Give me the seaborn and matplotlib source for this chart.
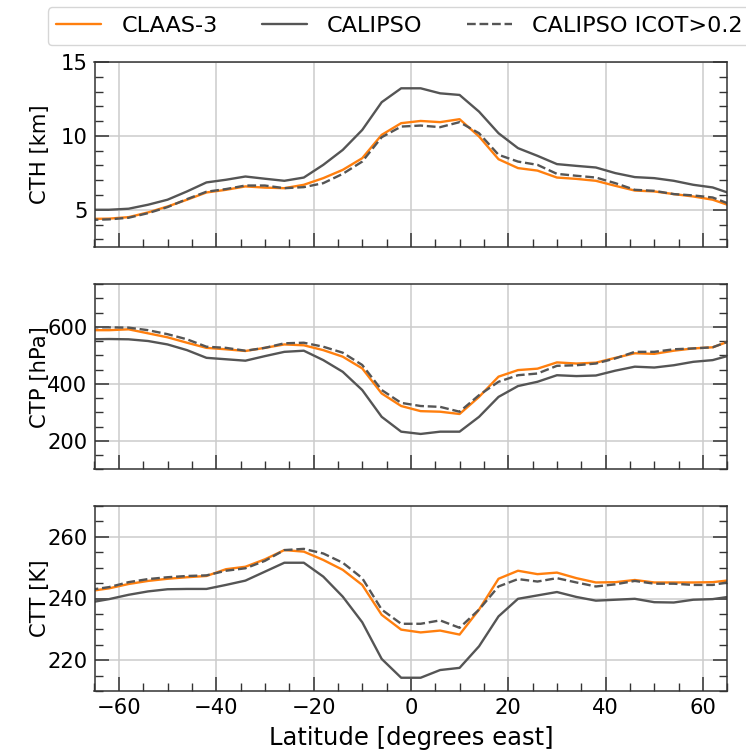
import numpy as np
import pandas as pd
import matplotlib
matplotlib.use("Agg")
import matplotlib.pyplot as plt
from matplotlib.ticker import MultipleLocator
import seaborn as sns

lat = [-66, -62, -58, -54, -50, -46, -42, -38, -34, -30, -26, -22, -18, -14, -10, -6, -2,
       2, 6, 10, 14, 18, 22, 26, 30, 34, 38, 42, 46, 50, 54, 58, 62, 66]

cth_claas = [4.38, 4.40, 4.50, 4.82, 5.22, 5.68, 6.17, 6.35, 6.58, 6.50, 6.46, 6.69, 7.14, 7.70, 8.49, 10.07, 10.86,
             11.01, 10.93, 11.13, 9.96, 8.42, 7.82, 7.65, 7.18, 7.09, 6.96, 6.62, 6.30, 6.24, 6.06, 5.90, 5.68, 5.23]
cth_calipso = [5.00, 5.00, 5.07, 5.34, 5.68, 6.24, 6.85, 7.03, 7.25, 7.10, 6.96, 7.18, 8.04, 9.05, 10.40, 12.28, 13.22,
               13.22, 12.88, 12.77, 11.64, 10.18, 9.17, 8.65, 8.09, 7.97, 7.86, 7.48, 7.21, 7.14, 6.96, 6.69, 6.51, 6.06]
cth_icot = [4.31, 4.35, 4.46, 4.77, 5.18, 5.72, 6.22, 6.40, 6.64, 6.64, 6.46, 6.53, 6.80, 7.43, 8.26, 9.91, 10.63,
            10.70, 10.59, 10.93, 10.18, 8.72, 8.26, 8.04, 7.43, 7.30, 7.18, 6.80, 6.35, 6.28, 6.06, 5.97, 5.83, 5.32]

ctp_claas = [588, 588, 591, 577, 563, 544, 526, 521, 515, 526, 538, 535, 518, 495, 454, 366, 322,
             304, 302, 294, 354, 425, 448, 453, 475, 471, 474, 491, 507, 505, 516, 524, 528, 553]
ctp_calipso = [556, 557, 556, 550, 538, 518, 491, 486, 481, 497, 512, 516, 483, 442, 378, 284, 232,
               224, 232, 232, 284, 354, 392, 407, 430, 427, 429, 446, 460, 457, 465, 477, 483, 502]
ctp_icot = [598, 598, 597, 588, 574, 556, 530, 526, 516, 526, 542, 544, 530, 509, 466, 378, 333,
            322, 319, 302, 360, 407, 430, 436, 463, 465, 471, 489, 512, 512, 521, 524, 528, 553]

ctt_claas = [242.4, 243.3, 244.7, 245.7, 246.4, 246.9, 247.3, 249.5, 250.3, 252.7, 255.7, 255.2, 252.5, 249.3, 244.4, 234.7, 229.9,
             229.0, 229.6, 228.3, 236.4, 246.4, 249.0, 247.9, 248.4, 246.6, 245.2, 245.3, 246.0, 245.2, 245.2, 245.2, 245.3, 246.0]
ctt_calipso = [238.7, 239.8, 241.2, 242.3, 243.0, 243.1, 243.1, 244.4, 245.8, 248.7, 251.6, 251.6, 247.1, 240.6, 232.3, 220.4, 214.3,
               214.3, 216.8, 217.5, 224.5, 234.2, 239.9, 241.0, 242.1, 240.5, 239.3, 239.6, 239.9, 238.8, 238.7, 239.6, 239.8, 240.7]
ctt_icot = [242.8, 243.7, 245.3, 246.3, 246.9, 247.3, 247.5, 249.0, 249.8, 252.2, 255.7, 256.1, 254.6, 251.6, 246.6, 236.4, 231.8,
            231.8, 232.9, 230.5, 236.4, 243.9, 246.3, 245.5, 246.6, 245.2, 243.9, 244.6, 245.7, 244.8, 244.8, 244.4, 244.4, 245.5]

series_names = ["CLAAS-3", "CALIPSO", "CALIPSO ICOT>0.2"]
ylabels = ["CTH [km]", "CTP [hPa]", "CTT [K]"]
xlabel = "Latitude [degrees east]"

sns.set_style("ticks")
plt.rcParams["font.family"] = ["DejaVu Sans"]
plt.rcParams["font.size"] = 15.2
plt.rcParams["text.color"] = "black"
plt.rcParams["axes.labelcolor"] = "black"
plt.rcParams["xtick.labelcolor"] = "black"
plt.rcParams["ytick.labelcolor"] = "black"

fig = plt.figure(figsize=(7.46, 7.51), dpi=100)
W, H = 746, 751
left_px, right_px = 94.5, 727.3
panels_px = [(62, 246.7), (284, 469.3), (506, 691)]

panel_data = [(cth_claas, cth_calipso, cth_icot),
              (ctp_claas, ctp_calipso, ctp_icot),
              (ctt_claas, ctt_calipso, ctt_icot)]
ylims = [(2.5, 15), (100, 750), (210, 270)]
ymajor = [5, 200, 20]
yminor = [1, 50, 5]

colors = ["#ff7f0e", "#555555", "#555555"]
styles = ["-", "-", "--"]
spine_col = "#333333"
FS = 15.2

axes = []
for i, (top, bot) in enumerate(panels_px):
    ax = fig.add_axes([left_px / W, 1 - bot / H, (right_px - left_px) / W, (bot - top) / H])
    axes.append(ax)
    for name, vals, c, ls in zip(series_names, panel_data[i], colors, styles):
        df = pd.DataFrame({"lat": lat, "val": vals})
        sns.lineplot(data=df, x="lat", y="val", ax=ax, color=c, linestyle=ls,
                     linewidth=1.7, label=name, legend=False)
    ax.set_xlim(-65, 65)
    ax.set_ylim(*ylims[i])
    ax.xaxis.set_major_locator(MultipleLocator(20))
    ax.xaxis.set_minor_locator(MultipleLocator(5))
    ax.yaxis.set_major_locator(MultipleLocator(ymajor[i]))
    ax.yaxis.set_minor_locator(MultipleLocator(yminor[i]))
    ax.grid(True, which="major", color="#cccccc", linewidth=1.1)
    ax.set_axisbelow(True)
    ax.tick_params(which="both", direction="in", left=True, right=True, bottom=True, top=False,
                   color=spine_col, labelsize=FS)
    ax.tick_params(which="major", length=10, width=1.1, pad=5)
    ax.tick_params(which="minor", length=6, width=1.0)
    for s in ax.spines.values():
        s.set_color(spine_col)
        s.set_linewidth(1.1)
    ax.set_ylabel(ylabels[i], fontsize=FS)
    if i < 2:
        ax.set_xlabel("")
        ax.tick_params(labelbottom=False)
    else:
        ax.set_xlabel(xlabel, fontsize=17.5, labelpad=6)

for ax in axes:
    ax.yaxis.set_label_coords(-0.07, 0.5)

handles, labels = axes[0].get_legend_handles_labels()
fig.legend(handles, labels, loc="upper left", bbox_to_anchor=(47.5 / W, 1 - 7.3 / H),
           ncol=3, fontsize=16.1, handletextpad=0.9, columnspacing=2.0,
           borderaxespad=0, frameon=True)

fig.savefig("out.png", dpi=100)
